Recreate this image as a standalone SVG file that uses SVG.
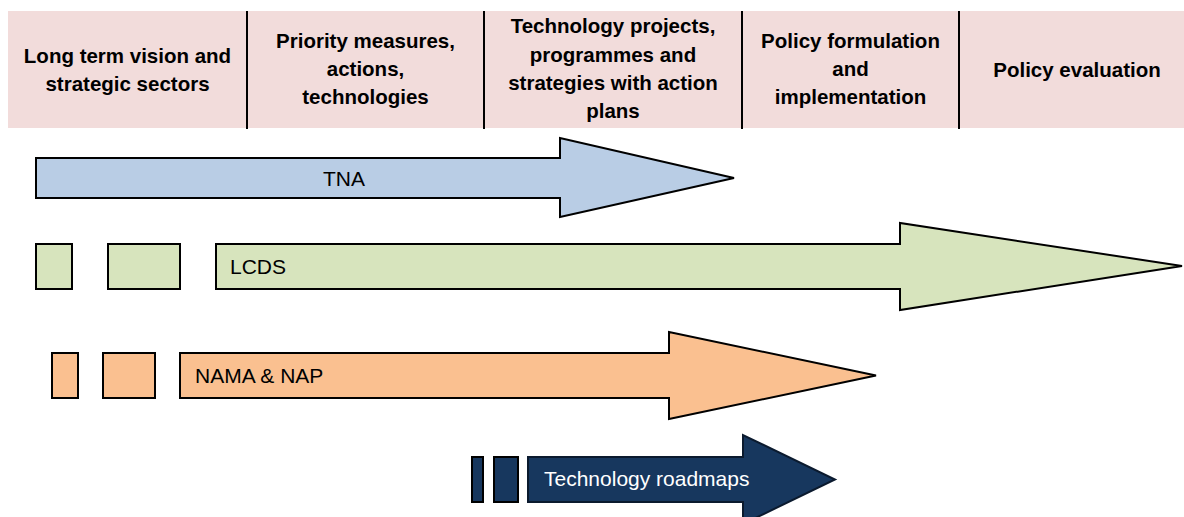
<svg xmlns="http://www.w3.org/2000/svg" width="1184" height="517" viewBox="0 0 1184 517">
<style>
.hd{font-family:"Liberation Sans",Arial,sans-serif;font-weight:bold;font-size:20.5px;fill:#000;text-anchor:middle}
.lb{font-family:"Liberation Sans",Arial,sans-serif;font-size:21px;fill:#000}
.sep{stroke:#000;stroke-width:2}
.sh{stroke:#000;stroke-width:2;stroke-linejoin:miter}
.blue{fill:#B9CDE5}
.green{fill:#D7E4BD}
.orange{fill:#FAC090}
.navy{fill:#17375E}
</style>
<rect x="0" y="0" width="1184" height="517" fill="#fff"/>
<g id="header">
<rect x="8" y="11" width="1176" height="117" fill="#F2DCDB"/>
<line class="sep" x1="247" y1="11" x2="247" y2="129"/>
<line class="sep" x1="484" y1="11" x2="484" y2="129"/>
<line class="sep" x1="742" y1="11" x2="742" y2="129"/>
<line class="sep" x1="959" y1="11" x2="959" y2="129"/>
</g>
<g id="col1"><text class="hd" x="127.5" y="63">Long term vision and</text><text class="hd" x="127.5" y="90.5">strategic sectors</text></g>
<g id="col2"><text class="hd" x="365.5" y="48">Priority measures,</text><text class="hd" x="365.5" y="76">actions,</text><text class="hd" x="365.5" y="104">technologies</text></g>
<g id="col3"><text class="hd" x="613" y="33">Technology projects,</text><text class="hd" x="613" y="62">programmes and</text><text class="hd" x="613" y="90">strategies with action</text><text class="hd" x="613" y="118">plans</text></g>
<g id="col4"><text class="hd" x="850.5" y="48">Policy formulation</text><text class="hd" x="850.5" y="76">and</text><text class="hd" x="850.5" y="104">implementation</text></g>
<g id="col5"><text class="hd" x="1077" y="77">Policy evaluation</text></g>
<g id="connectors">
<g id="tna">
<polygon class="sh blue" points="36,158 560,158 560,138 734,178 560,217 560,198 36,198"/>
<text class="lb" x="323" y="186">TNA</text>
</g>
<g id="lcds">
<rect class="sh green" x="36" y="244" width="36" height="45"/>
<rect class="sh green" x="108" y="244" width="72" height="45"/>
<polygon class="sh green" points="216,244 900,244 900,223 1182,266 900,310 900,289 216,289"/>
<text class="lb" x="230" y="274">LCDS</text>
</g>
<g id="nama">
<rect class="sh orange" x="52" y="353" width="26" height="45"/>
<rect class="sh orange" x="103" y="353" width="52" height="45"/>
<polygon class="sh orange" points="180,353 669,353 669,332 876,375.5 669,419 669,398 180,398"/>
<text class="lb" x="195" y="383">NAMA &amp; NAP</text>
</g>
<g id="roadmaps">
<rect class="sh navy" x="472" y="457" width="11" height="45"/>
<rect class="sh navy" x="494" y="457" width="24" height="45"/>
<polygon class="navy" stroke="#0b1a2e" stroke-width="2" points="528,457 743,457 743,435 835,479.5 743,524 743,502 528,502"/>
<text class="lb" x="544" y="486" fill="#fff" style="fill:#fff">Technology roadmaps</text>
</g>
</g>
</svg>
